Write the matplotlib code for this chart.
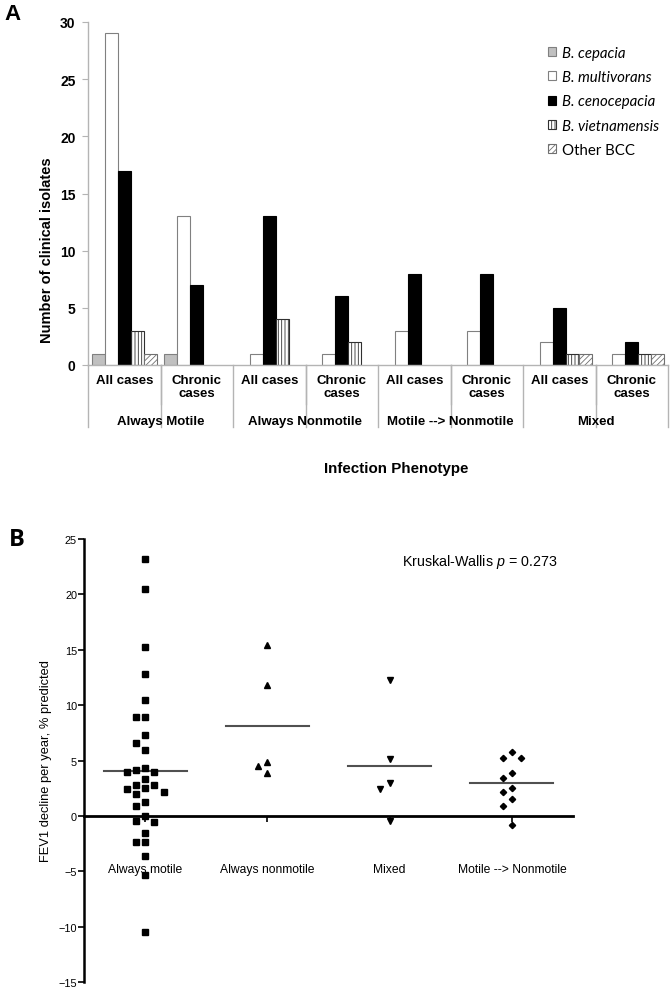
import numpy as np
import matplotlib
matplotlib.use("Agg")
import matplotlib.pyplot as plt

plt.rcParams['font.family'] = ['Liberation Sans', 'DejaVu Sans']
plt.rcParams['mathtext.fontset'] = 'custom'
plt.rcParams['mathtext.rm'] = 'Liberation Sans'
plt.rcParams['mathtext.it'] = 'Liberation Sans:italic'
plt.rcParams['hatch.linewidth'] = 0.6

# panel A data
species = ['B. cepacia', 'B. multivorans', 'B. cenocepacia', 'B. vietnamensis', 'Other BCC']
subgroups = ['All cases', 'Chronic\ncases'] * 4
phenotypes = ['Always Motile', 'Always Nonmotile', 'Motile --> Nonmotile', 'Mixed']
cepacia = [1, 1, 0, 0, 0, 0, 0, 0]
multivorans = [29, 13, 1, 1, 3, 3, 2, 1]
cenocepacia = [17, 7, 13, 6, 8, 8, 5, 2]
vietnamensis = [3, 0, 4, 2, 0, 0, 1, 1]
other_bcc = [1, 0, 0, 0, 0, 0, 1, 1]

# panel B data
groups_b = ['Always motile', 'Always nonmotile', 'Mixed', 'Motile --> Nonmotile']
always_motile = [23.2, 20.45, 15.25, 12.85, 10.45, 8.95, 8.95, 7.27, 6.6, 5.98,
                 4.32, 4.14, 3.99, 3.99, 3.3, 2.76, 2.76, 2.49, 2.4, 2.13, 1.95,
                 1.23, 0.9, 0.0, -0.42, -0.57, -1.56, -2.37, -2.37, -3.63, -5.37, -10.5]
always_nonmotile = [15.44, 11.83, 4.86, 4.47, 3.9]
mixed = [12.31, 5.1, 3.0, 2.43, -0.42]
motile_to_nonmotile = [5.8, 5.23, 5.23, 3.87, 3.42, 2.55, 2.19, 1.56, 0.9, -0.78]


def swarm(vals, thr=0.75):
    # simple greedy dot arrangement: shift sideways when a dot would overlap
    order = [0, -1, 1, -2, 2, -3, 3]
    placed = []
    for v in vals:
        for s in order:
            if all(abs(v - pv) >= thr for pv, ps in placed if ps == s):
                break
        placed.append((v, s))
    return np.array([s for _, s in placed])


W, H = 672, 995
fig = plt.figure(figsize=(W / 100, H / 100), dpi=100)
grey = '#b4b4b4'

# ---------------- panel A ----------------
ax1 = fig.add_axes([88 / W, 1 - 366 / H, 580 / W, 343 / H])
x = np.arange(len(subgroups)) + 0.5
bw = 0.18
series = [cepacia, multivorans, cenocepacia, vietnamensis, other_bcc]
styles = [dict(color='#c0c0c0', edgecolor='#808080'),
          dict(color='white', edgecolor='#808080'),
          dict(color='black', edgecolor='black'),
          dict(color='white', edgecolor='#303030', hatch='|||||'),
          dict(color='white', edgecolor='#707070', hatch='//////')]
handles = []
for i, (vals, st) in enumerate(zip(series, styles)):
    bars = ax1.bar(x + (i - 2) * bw, vals, bw, linewidth=0.8, label=species[i], **st)
    for p, v in zip(bars, vals):
        if v == 0:
            p.set_visible(False)
    handles.append(bars[0])

ax1.set_xlim(0, 8)
ax1.set_ylim(0, 30)
ax1.set_yticks(range(0, 31, 5))
ax1.tick_params(axis='y', length=4, color=grey, pad=5, labelsize=10)
for t in ax1.get_yticklabels():
    t.set_fontweight('bold')
ax1.set_xticks([])
for s in ['top', 'right']:
    ax1.spines[s].set_visible(False)
for s in ['left', 'bottom']:
    ax1.spines[s].set_color(grey)
    ax1.spines[s].set_linewidth(1.0)

tr = ax1.get_xaxis_transform()
for k in range(9):
    ax1.plot([k, k], [0, -0.181], color=grey, lw=1.0, transform=tr, clip_on=False)
for k in range(1, 8, 2):
    ax1.plot([k, k], [0, -0.1137], color=grey, lw=1.0, transform=tr, clip_on=False)
for xi, lab in zip(x, subgroups):
    ax1.text(xi, -0.026, lab, transform=tr, ha='center', va='top',
             fontsize=9.5, fontweight='bold', linespacing=1.15)
for g, lab in enumerate(phenotypes):
    ax1.text(2 * g + 1, -0.163, lab, transform=tr, ha='center', va='center',
             fontsize=9.5, fontweight='bold')

fig.text(396 / W, 1 - 469 / H, 'Infection Phenotype', ha='center', va='center',
         fontsize=10.9, fontweight='bold')
fig.text(47 / W, 1 - 250 / H, 'Number of clinical isolates', rotation=90,
         ha='center', va='center', fontsize=10.5, fontweight='bold')
fig.text(4 / W, 1 - 15 / H, 'A', ha='left', va='center', fontsize=16, fontweight='bold')

leg = ax1.legend(handles, species, loc='upper left',
                 bbox_to_anchor=(548 / W, 1 - 47 / H), bbox_transform=fig.transFigure,
                 frameon=False, borderpad=0, borderaxespad=0,
                 handlelength=0.55, handleheight=0.55, handletextpad=0.35,
                 labelspacing=0.68, prop={'family': 'Lato', 'size': 10.8})
for t in leg.get_texts()[:4]:
    t.set_fontstyle('italic')

# ---------------- panel B ----------------
ax2 = fig.add_axes([84 / W, 1 - 983 / H, (573 - 84) / W, (983 - 540) / H])
data_b = [always_motile, always_nonmotile, mixed, motile_to_nonmotile]
markers = [('s', 4.3), ('^', 4.8), ('v', 4.8), ('D', 3.2)]
step = 0.076
for i, (vals, (m, ms)) in enumerate(zip(data_b, markers)):
    pos = i + 1
    xs = pos + swarm(vals) * step
    ax2.plot(xs, vals, linestyle='none', marker=m, ms=ms, color='black', zorder=3)
    mu = np.mean(vals)
    ax2.plot([pos - 0.34, pos + 0.34], [mu, mu], color='#505050', lw=1.5, zorder=2)

ax2.set_xlim(0.5, 4.5)
ax2.set_ylim(-15, 25)
ax2.set_yticks(range(-15, 26, 5))
ax2.set_xticks(range(1, 5))
ax2.set_xticklabels(groups_b)
ax2.tick_params(axis='y', length=4, width=1.2, labelsize=7.8, pad=1)
ax2.tick_params(axis='x', length=4, width=1.2, pad=30, labelsize=8.7)
for t in ax2.get_xticklabels():
    t.set_fontweight('bold')
for s in ['top', 'right']:
    ax2.spines[s].set_visible(False)
ax2.spines['left'].set_linewidth(1.8)
ax2.spines['bottom'].set_linewidth(2.0)
ax2.spines['bottom'].set_position(('data', 0))
ax2.set_ylabel('FEV1 decline per year, % predicted', fontsize=9.3)
ax2.yaxis.set_label_coords((52 - 84) / (573 - 84), 0.5)

fig.text(480 / W, 1 - 562 / H, 'Kruskal-Wallis $p$ = 0.273', ha='center', va='center',
         fontsize=10.3)
fig.text(9 / W, 1 - 540 / H, 'B', ha='left', va='center', fontsize=17,
         fontweight='bold', family='Open Sans')

fig.savefig('out.png', dpi=100)
